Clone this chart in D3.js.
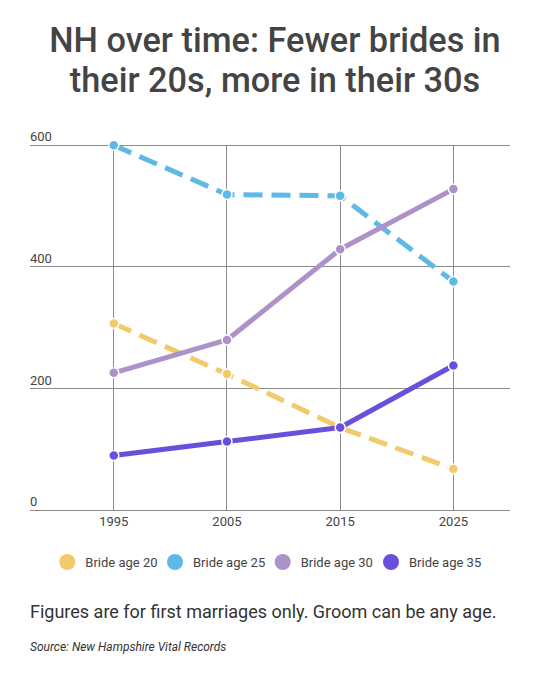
<!DOCTYPE html>
<html><head><meta charset="utf-8">
<script src="https://cdn.jsdelivr.net/npm/d3@7"></script>
<style>body{margin:0;background:#fff;font-family:Roboto,"Open Sans",sans-serif;}</style>
</head><body><svg id="c" width="550" height="675"></svg>
<script>
const years = [1995, 2005, 2015, 2025];
const seriesNames = ["Bride age 20", "Bride age 25", "Bride age 30", "Bride age 35"];
const age20 = [307, 224, 136, 68];
const age25 = [600, 519, 517, 376];
const age30 = [226, 280, 429, 528];
const age35 = [90, 113, 136, 238];
const yTicks = [0, 200, 400, 600];
const colors = ["#f1cb6b", "#5db9e6", "#ad92c9", "#6a4fdc"];
const dashed = [true, true, false, false];
const titleLines = ["NH over time: Fewer brides in", "their 20s, more in their 30s"];
const note = "Figures are for first marriages only. Groom can be any age.";
const source = "Source: New Hampshire Vital Records";

const allSeries = [age20, age25, age30, age35];
const svg = d3.select("#c");
const x = d3.scaleLinear().domain([1987.6, 2030]).range([30, 510]);
const y = d3.scaleLinear().domain([0, 600]).range([510.3, 145.3]);

svg.selectAll("text.title").data(titleLines).join("text")
  .attr("x", 275).attr("y", (d,i)=>52+i*40).attr("text-anchor","middle")
  .attr("font-size", 34.3).attr("font-weight", 500).attr("fill","#444").text(d=>d);

// grid
svg.append("g").selectAll("line").data(yTicks).join("line")
  .attr("x1",30).attr("x2",510).attr("y1",d=>y(d)).attr("y2",d=>y(d))
  .attr("stroke","#8c8c8c").attr("stroke-width",1).attr("shape-rendering","crispEdges");
svg.append("g").selectAll("line").data(years).join("line")
  .attr("x1",d=>x(d)).attr("x2",d=>x(d)).attr("y1",y(600)).attr("y2",y(0))
  .attr("stroke","#8c8c8c").attr("stroke-width",1).attr("shape-rendering","crispEdges");
svg.append("g").selectAll("text").data(yTicks).join("text")
  .attr("x",30).attr("y",d=>y(d)-4).attr("font-size",13).attr("fill","#444").text(d=>d);
svg.append("g").selectAll("text").data(years).join("text")
  .attr("x",d=>x(d)).attr("y",526).attr("text-anchor","middle").attr("font-size",13).attr("fill","#444").text(d=>d);

const line = d3.line().x((d,i)=>x(years[i])).y(d=>y(d));
allSeries.forEach((s,k)=>{
  const g = svg.append("g");
  g.append("path").attr("d", line(s)).attr("fill","none").attr("stroke",colors[k])
    .attr("stroke-width",5).attr("stroke-dasharray", dashed[k] ? "19,9" : null)
    .attr("stroke-linejoin","round");
  g.selectAll("circle").data(s).join("circle")
    .attr("cx",(d,i)=>x(years[i])).attr("cy",d=>y(d)).attr("r",5)
    .attr("fill",colors[k]).attr("stroke","#fff").attr("stroke-width",1.5);
});

// legend
const legX = [67.3, 175, 282.7, 391];
const leg = svg.append("g").selectAll("g").data(seriesNames).join("g")
  .attr("transform",(d,i)=>`translate(${legX[i]},562)`);
leg.append("circle").attr("r",8).attr("fill",(d,i)=>colors[i]);
leg.append("text").attr("x",18).attr("y",4.5).attr("font-size",13).attr("fill","#444").text(d=>d);

svg.append("text").attr("x",30).attr("y",618).attr("font-size",18).attr("fill","#333").text(note);
svg.append("text").attr("x",30).attr("y",651).attr("font-size",12).attr("font-style","italic").attr("fill","#333").text(source);
</script></body></html>
